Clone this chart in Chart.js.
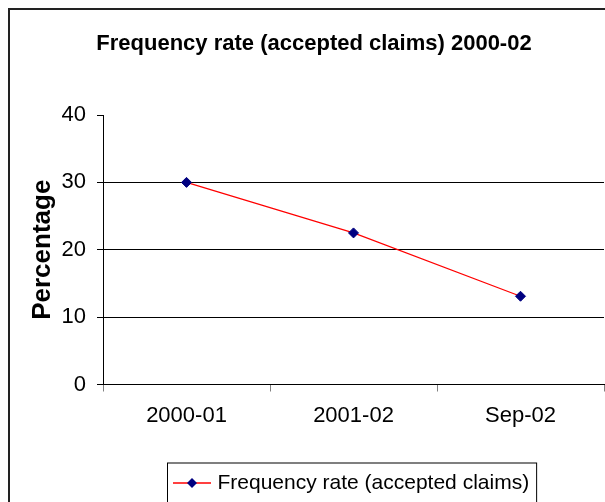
<!DOCTYPE html>
<html>
<head>
<meta charset="utf-8">
<script src="https://cdn.jsdelivr.net/npm/chart.js@4/dist/chart.umd.min.js"></script>
<style>
html, body { margin: 0; padding: 0; background: #fff; overflow: hidden; }
canvas { display: block; }
</style>
</head>
<body>
<canvas id="freqChart" width="605" height="502"></canvas>
<script>
var periods = ['2000-01', '2001-02', 'Sep-02'];
var freqRate = [30, 22.5, 13.1];
var yTicks = [0, 10, 20, 30, 40];
var seriesName = 'Frequency rate (accepted claims)';
var chartTitle = 'Frequency rate (accepted claims) 2000-02';
var yTitle = 'Percentage';

var fontFam = "'Liberation Sans', Arial, sans-serif";
Chart.defaults.font.family = fontFam;
Chart.defaults.color = '#000';

// legend sample: red line with a navy diamond on it
var legendMark = document.createElement('canvas');
legendMark.width = 38;
legendMark.height = 12;
var lm = legendMark.getContext('2d');
lm.strokeStyle = '#ff0000';
lm.lineWidth = 1.5;
lm.beginPath(); lm.moveTo(0, 6); lm.lineTo(38, 6); lm.stroke();
lm.fillStyle = '#000080';
lm.beginPath(); lm.moveTo(14, 6); lm.lineTo(19, 1); lm.lineTo(24, 6); lm.lineTo(19, 11); lm.closePath(); lm.fill();

// excel style frame + legend box
var excelFrame = {
    id: 'excelFrame',
    afterLayout: function(chart) {
        chart.legend.left = 167;
    },
    beforeDraw: function(chart) {
        var c = chart.ctx;
        c.save();
        c.fillStyle = '#fff';
        c.fillRect(0, 0, chart.width, chart.height);
        c.strokeStyle = '#222';
        c.lineWidth = 2;
        c.strokeRect(9, 9, chart.width + 20, chart.height + 20);
        c.restore();
    },
    afterDraw: function(chart) {
        var lg = chart.legend;
        var lo = lg.options.labels;
        var c = chart.ctx;
        c.save();
        c.font = lo.font.size + 'px ' + fontFam;
        var w = c.measureText(seriesName).width;
        var right = lg.left + lo.padding + lo.pointStyleWidth + lo.font.size / 2 + w + 7;
        c.strokeStyle = '#000';
        c.lineWidth = 1;
        c.strokeRect(lg.left + 0.5, lg.top + 0.5, right - lg.left, 100);
        c.restore();
    }
};

var ctx = document.getElementById('freqChart');
new Chart(ctx, {
    type: 'line',
    data: {
        labels: periods,
        datasets: [{
            label: seriesName,
            data: freqRate,
            borderColor: '#ff0000',
            borderWidth: 1.2,
            backgroundColor: '#000080',
            pointStyle: 'rectRot',
            pointRadius: 5,
            pointBorderWidth: 1,
            pointBorderColor: '#000080',
            pointBackgroundColor: '#000080',
            tension: 0,
            fill: false
        }]
    },
    options: {
        responsive: false,
        animation: false,
        layout: {autoPadding: false, padding: {left: 24, right: 1, top: 0, bottom: -1.5}},
        plugins: {
            title: {
                display: true,
                text: chartTitle,
                font: {size: 22, weight: 'bold'},
                color: '#000',
                padding: {top: 31, bottom: 57.6}
            },
            legend: {
                position: 'bottom',
                align: 'start',
                labels: {
                    usePointStyle: true,
                    pointStyle: legendMark,
                    pointStyleWidth: 30,
                    padding: 10,
                    color: '#000',
                    font: {size: 21}
                }
            },
            tooltip: {enabled: false}
        },
        scales: {
            x: {
                offset: true,
                grid: {
                    offset: true,
                    drawOnChartArea: false,
                    tickLength: 7,
                    tickColor: '#808080'
                },
                border: {color: '#000', width: 1},
                ticks: {font: {size: 22}, padding: 11, maxRotation: 0},
                afterFit: function(s) { s.height = 78; }
            },
            y: {
                min: yTicks[0],
                max: yTicks[yTicks.length - 1],
                afterBuildTicks: function(s) {
                    s.ticks = yTicks.map(function(v) { return {value: v}; });
                },
                grid: {
                    color: function(c) {
                        var v = c.tick ? c.tick.value : null;
                        return (v === 0 || v === 40) ? 'rgba(0,0,0,0)' : '#000';
                    },
                    tickColor: '#000',
                    tickLength: 6,
                    lineWidth: 1
                },
                border: {color: '#000', width: 1},
                ticks: {font: {size: 22}, padding: 11},
                title: {
                    display: true,
                    text: yTitle,
                    font: {size: 26, weight: 'bold'},
                    padding: {top: 3, bottom: 0}
                },
                afterFit: function(s) { s.width = 79; }
            }
        }
    },
    plugins: [excelFrame]
});
</script>
</body>
</html>
